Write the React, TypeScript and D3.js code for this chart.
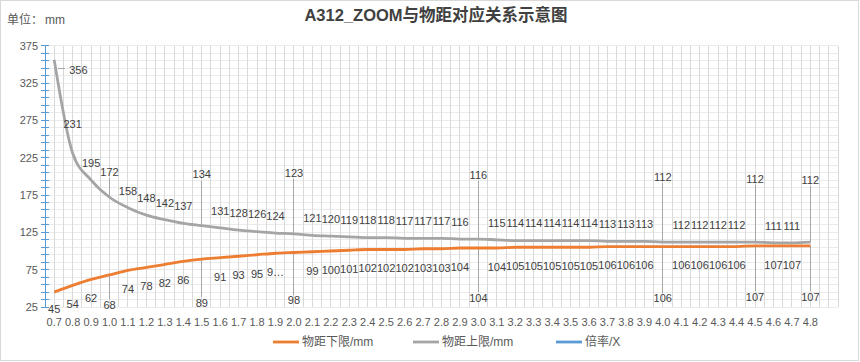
import * as d3 from "d3";

// 倍率（横轴），最后一格空
const ratios = [
  "0.7", "0.8", "0.9", "1.0", "1.1", "1.2", "1.3", "1.4", "1.5", "1.6", "1.7", "1.8", "1.9", "2.0",
  "2.1", "2.2", "2.3", "2.4", "2.5", "2.6", "2.7", "2.8", "2.9", "3.0", "3.1", "3.2", "3.3", "3.4",
  "3.5", "3.6", "3.7", "3.8", "3.9", "4.0", "4.1", "4.2", "4.3", "4.4", "4.5", "4.6", "4.7", "4.8", "",
];

// 物距上限/mm
const upperLimit = [
  356, 231, 195, 172, 158, 148, 142, 137, 134, 131, 128, 126, 124, 123,
  121, 120, 119, 118, 118, 117, 117, 117, 116, 116, 115, 114, 114, 114,
  114, 114, 113, 113, 113, 112, 112, 112, 112, 112, 112, 111, 111, 112,
];

// 物距下限/mm
const lowerLimit = [
  45, 54, 62, 68, 74, 78, 82, 86, 89, 91, 93, 95, 97, 98,
  99, 100, 101, 102, 102, 102, 103, 103, 104, 104, 104, 105, 105, 105,
  105, 105, 106, 106, 106, 106, 106, 106, 106, 106, 107, 107, 107, 107,
];

const yTickLabels = [25, 75, 125, 175, 225, 275, 325, 375];

const seriesNames = ["物距下限/mm", "物距上限/mm", "倍率/X"];

// label placement (px offsets from the point), leader lines where labels were dragged
const upperDy: Record<number, number> = { 1: -29, 3: -25, 8: -51, 13: -61, 23: -64, 33: -65, 38: -63, 41: -62 };
const lowerDy: Record<number, number> = { 0: 17, 3: 30, 8: 44, 13: 48, 23: 50, 33: 52, 38: 51, 41: 51 };
const leaders = [3, 8, 13, 23, 33, 38, 41];

const W = 860;
const H = 362;
const left = 45;
const right = 838;
const top = 45.7;
const bottom = 307;

const ORANGE = "#ED7D31";
const GRAY = "#A5A5A5";
const BLUE = "#5B9BD5";
const TEXT = "#404040";
const FONT = "'Liberation Sans', 'Noto Sans CJK SC', sans-serif";

export default function App() {
  const x = d3.scaleBand<number>().domain(d3.range(ratios.length)).range([left, right]);
  const bw = x.bandwidth();
  const cx = (i: number) => (x(i) ?? 0) + bw / 2;
  const y = d3.scaleLinear().domain([25, 375]).range([bottom, top]);

  const line = d3
    .line<number>()
    .x((_, i) => cx(i))
    .y((d) => y(d))
    .curve(d3.curveMonotoneX);

  const vGrid = d3.range(ratios.length * 2 + 1).map((k) => left + (k * bw) / 2);
  const hGrid = d3.range(25, 376, 10);

  const labelText = (v: number, i: number, lower: boolean) => (lower && i === 12 ? "9…" : String(v));

  return (
    <svg width={W} height={H} style={{ position: "absolute", left: 0, top: 0 }} fontFamily={FONT}>
      <rect x={0.5} y={0.5} width={W - 2} height={H - 2} fill="#fff" stroke="#D9D9D9" />

      <text x={W / 2 + 6} y={21} textAnchor="middle" fontSize={16.5} fontWeight="bold" fill={TEXT}>
        A312_ZOOM与物距对应关系示意图
      </text>
      <text x={7} y={24} fontSize={12} fill="#595959">
        单位：<tspan dx={2}>mm</tspan>
      </text>

      {/* grid */}
      <g strokeWidth={1} shapeRendering="crispEdges">
        {hGrid.map((v) => (
          <line key={"h" + v} x1={left} x2={right} y1={y(v)} y2={y(v)} stroke="#EBEBEB" />
        ))}
        {vGrid.map((gx, k) => (
          <line key={"v" + k} x1={gx} x2={gx} y1={top} y2={bottom} stroke="#D9D9D9" />
        ))}
      </g>

      {/* y axis */}
      <g stroke={BLUE} shapeRendering="crispEdges">
        <line x1={left} x2={left} y1={top} y2={bottom} />
        {hGrid.map((v) => (
          <line key={"t" + v} x1={left - 4} x2={left + 4} y1={y(v)} y2={y(v)} />
        ))}
      </g>
      {yTickLabels.map((v) => (
        <text key={"yl" + v} x={38} y={y(v)} dy="0.35em" textAnchor="end" fontSize={11} fill="#595959">
          {v}
        </text>
      ))}

      {/* x labels */}
      {ratios.map((r, i) => (
        <text key={"xl" + i} x={cx(i)} y={326} textAnchor="middle" fontSize={11} fill="#595959">
          {r}
        </text>
      ))}

      {/* leader lines */}
      <g stroke="#A6A6A6" strokeWidth={1} shapeRendering="crispEdges">
        {leaders.map((i) => (
          <line key={"lu" + i} x1={cx(i)} x2={cx(i)} y1={y(upperLimit[i]) + upperDy[i] + 6} y2={y(upperLimit[i])} />
        ))}
        {leaders.map((i) => (
          <line key={"ll" + i} x1={cx(i)} x2={cx(i)} y1={y(lowerLimit[i])} y2={y(lowerLimit[i]) + lowerDy[i] - 6} />
        ))}
        <line x1={cx(0) + 4} x2={cx(0) + 11} y1={y(upperLimit[0]) + 9} y2={y(upperLimit[0]) + 9} />
      </g>

      {/* series */}
      <path d={line(upperLimit) ?? ""} fill="none" stroke={GRAY} strokeWidth={2.8} strokeLinejoin="round" />
      <path d={line(lowerLimit) ?? ""} fill="none" stroke={ORANGE} strokeWidth={2.8} strokeLinejoin="round" />

      {/* data labels */}
      <g fontSize={11} fill={TEXT} textAnchor="middle">
        {upperLimit.map((v, i) =>
          i === 0 ? (
            <text key={"u" + i} x={cx(i) + 15} y={y(v) + 10} dy="0.35em" textAnchor="start">
              {v}
            </text>
          ) : (
            <text key={"u" + i} x={cx(i)} y={y(v) + (upperDy[i] ?? -17)} dy="0.35em">
              {v}
            </text>
          )
        )}
        {lowerLimit.map((v, i) => (
          <text key={"l" + i} x={cx(i)} y={y(v) + (lowerDy[i] ?? 19)} dy="0.35em">
            {labelText(v, i, true)}
          </text>
        ))}
      </g>

      {/* legend */}
      <g fontSize={12} fill="#595959">
        {[ORANGE, GRAY, BLUE].map((c, k) => {
          const lx = [273, 413, 556][k];
          return (
            <g key={"lg" + k}>
              <line x1={lx} x2={lx + 26} y1={342} y2={342} stroke={c} strokeWidth={2.8} />
              <text x={lx + 29} y={342} dy="0.35em">
                {seriesNames[k]}
              </text>
            </g>
          );
        })}
      </g>
    </svg>
  );
}
